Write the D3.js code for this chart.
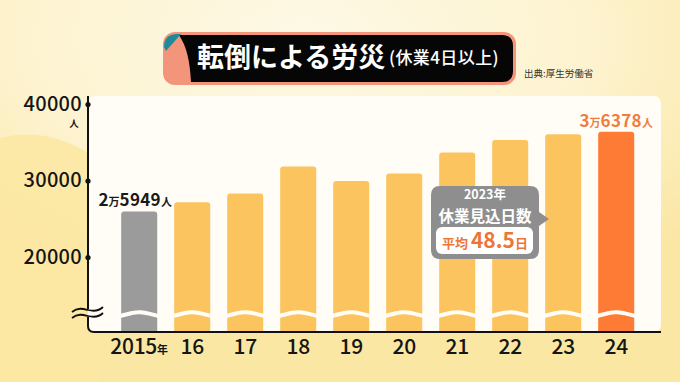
<!DOCTYPE html>
<html>
<head>
<meta charset="utf-8">
<script src="https://cdn.jsdelivr.net/npm/d3@7"></script>
<style>
  html, body { margin: 0; padding: 0; background: #fcebb0; }
  svg { display: block; font-family: "Noto Sans CJK JP", "Noto Sans", sans-serif; }
</style>
</head>
<body>
<div id="chart"></div>
<script>
// data
const years = ["2015", "16", "17", "18", "19", "20", "21", "22", "23", "24"];
const values = [25949, 27152, 28310, 31833, 29928, 30929, 33672, 35295, 36058, 36378];
const yTicks = [20000, 30000, 40000];
const titleMain = "転倒による労災";
const titleSub = "(休業4日以上)";
const sourceText = "出典:厚生労働省";
const calloutLines = ["2023年", "休業見込日数"];
const calloutAvg = 48.5;

// layout
const width = 680, height = 382;
const baseY = 332, breakY = 314;
const axisX = 88, plotRight = 661, plotTop = 96;

const svg = d3.select("#chart").append("svg")
    .attr("width", width)
    .attr("height", height);

const defs = svg.append("defs");
const glow = defs.append("radialGradient")
    .attr("id", "glow")
    .attr("cx", "0.45").attr("cy", "0.1").attr("r", "0.75");
glow.append("stop").attr("offset", "0").attr("stop-color", "#fef9e6");
glow.append("stop").attr("offset", "0.55").attr("stop-color", "#fdf3d0");
glow.append("stop").attr("offset", "1").attr("stop-color", "#fbe7a4");

// background
svg.append("rect")
    .attr("width", width).attr("height", height)
    .attr("fill", "url(#glow)");
svg.append("path")
    .attr("d", "M0,138 C40,128 70,140 100,160 L100,382 L0,382 Z")
    .attr("fill", "#fbe7a2")
    .attr("opacity", 0.85);

// title plate
{
    let g = svg.append("g");
    g.append("rect")
        .attr("x", 163).attr("y", 32)
        .attr("width", 353).attr("height", 53)
        .attr("rx", 12)
        .attr("fill", "#f3957a");
    g.append("path")
        .attr("d", "M179,35 H502 Q513,35 513,46 V71 Q513,82 502,82 H191 C190,62 187,47 179,35 Z")
        .attr("fill", "#060606");
    g.append("path")
        .attr("d", "M164,47 Q164,35 176,34 L181,34 L166,51 Z")
        .attr("fill", "#1f8a9a");
    g.append("text")
        .attr("x", 197).attr("y", 67)
        .attr("font-size", 27)
        .attr("font-weight", "bold")
        .attr("fill", "#ffffff")
        .text(titleMain);
    g.append("text")
        .attr("x", 389).attr("y", 64)
        .attr("font-size", 17)
        .attr("font-weight", 500)
        .attr("letter-spacing", 0.4)
        .attr("fill", "#ffffff")
        .text(titleSub);
    svg.append("text")
        .attr("x", 524).attr("y", 77)
        .attr("font-size", 9.5)
        .attr("fill", "#333")
        .text(sourceText);
}

// card
svg.append("rect")
    .attr("x", axisX).attr("y", plotTop)
    .attr("width", plotRight - axisX).attr("height", baseY - plotTop)
    .attr("rx", 7)
    .attr("fill", "#fffdf6");

// scales
let x = d3.scaleBand()
    .domain(years)
    .range([112.7, 642.7])
    .paddingInner(0.32)
    .paddingOuter(0.16);
let y = d3.scaleLinear()
    .domain([20000, 40000])
    .range([257, 104]);

function barColor(i) {
    if (i === 0) return "#9b9b9b";
    if (i === years.length - 1) return "#fd7b35";
    return "#fcc45f";
}

function barPath(d, i) {
    let x0 = x(years[i]), w = x.bandwidth(), y0 = y(d), r = 3;
    return "M" + x0 + "," + baseY +
        "V" + (y0 + r) +
        "Q" + x0 + "," + y0 + " " + (x0 + r) + "," + y0 +
        "H" + (x0 + w - r) +
        "Q" + (x0 + w) + "," + y0 + " " + (x0 + w) + "," + (y0 + r) +
        "V" + baseY + "Z";
}

// bars
svg.selectAll(".bar")
    .data(values)
    .enter()
    .append("path")
    .attr("class", "bar")
    .attr("d", barPath)
    .attr("fill", function(d, i) { return barColor(i); });

// wavy break through bars
{
    let pts = [];
    let c0 = x(years[0]) + x.bandwidth() / 2;
    for (let px = 108; px <= 648; px += 1) {
        pts.push([px, breakY + 0.5 - 2.2 * Math.cos(2 * Math.PI * (px - c0) / x.step())]);
    }
    svg.append("path")
        .attr("d", d3.line()(pts))
        .attr("fill", "none")
        .attr("stroke", "#fffdf6")
        .attr("stroke-width", 4);
}

// value labels
function addValueLabel(i, color, dx) {
    let v = values[i];
    let t = svg.append("text")
        .attr("x", x(years[i]) + x.bandwidth() / 2 + dx)
        .attr("y", y(v) - 5)
        .attr("text-anchor", "middle")
        .attr("font-weight", "bold")
        .attr("fill", color);
    t.append("tspan").attr("font-size", 17).text(Math.floor(v / 10000));
    t.append("tspan").attr("font-size", 11).text("万");
    t.append("tspan").attr("font-size", 17).attr("letter-spacing", 0.3).text(v % 10000);
    t.append("tspan").attr("font-size", 11).text("人");
}
addValueLabel(0, "#1a1a1a", -4);
addValueLabel(years.length - 1, "#f07c3e", 0);

// y axis
{
    let yAxis = d3.axisLeft(y)
        .tickValues(yTicks)
        .tickSize(0)
        .tickPadding(6)
        .tickFormat(d3.format("d"));
    let ga = svg.append("g")
        .attr("transform", "translate(" + axisX + ",0)")
        .call(yAxis);
    ga.select(".domain").remove();
    ga.selectAll("text")
        .attr("font-size", 20)
        .attr("font-weight", 500)
        .attr("letter-spacing", 0.3)
        .attr("fill", "#151515")
        .attr("font-family", "'Noto Sans CJK JP', sans-serif");
    ga.selectAll(".tick").append("circle")
        .attr("r", 2.6)
        .attr("fill", "#111");
    svg.append("text")
        .attr("x", 74).attr("y", 127)
        .attr("text-anchor", "middle")
        .attr("font-size", 9.5)
        .attr("font-weight", "bold")
        .attr("fill", "#151515")
        .text("人");

    // axis lines
    svg.append("path")
        .attr("d", "M" + axisX + "," + plotTop + "V" + (breakY - 5))
        .attr("stroke", "#111").attr("stroke-width", 2).attr("fill", "none");
    svg.append("path")
        .attr("d", "M" + axisX + "," + (breakY + 3) + "V" + (baseY - 6) +
            "Q" + axisX + "," + baseY + " " + (axisX + 6) + "," + baseY + "H" + plotRight)
        .attr("stroke", "#111").attr("stroke-width", 2).attr("fill", "none");
    // break marks
    [breakY - 4, breakY + 2].forEach(function(yy) {
        svg.append("path")
            .attr("d", "M72," + (yy + 2) + " C78," + (yy - 3) + " 84," + (yy - 1) + " 88," + yy +
                " S98," + (yy + 2) + " 103," + (yy - 3))
            .attr("fill", "none")
            .attr("stroke", "#111")
            .attr("stroke-width", 1.8);
    });
}

// x labels
{
    let xl = svg.selectAll(".xlab")
        .data(years)
        .enter()
        .append("text")
        .attr("class", "xlab")
        .attr("x", function(d) { return x(d) + x.bandwidth() / 2; })
        .attr("y", 354)
        .attr("text-anchor", "middle")
        .attr("font-weight", 500)
        .attr("fill", "#151515");
    xl.append("tspan")
        .attr("font-size", 21)
        .attr("letter-spacing", -0.3)
        .text(function(d) { return d; });
    xl.filter(function(d, i) { return i === 0; })
        .append("tspan")
        .attr("font-size", 11)
        .attr("font-weight", "bold")
        .text("年");
}

// callout
{
    let g = svg.append("g");
    g.append("path")
        .attr("d", "M440,186 H530 Q539,186 539,195 V212 L549,219 L539,226 V250 Q539,259 530,259 H440 Q431,259 431,250 V195 Q431,186 440,186 Z")
        .attr("fill", "#8e8e8e");
    g.append("rect")
        .attr("x", 436).attr("y", 227)
        .attr("width", 97).attr("height", 27)
        .attr("rx", 6)
        .attr("fill", "#ffffff");
    g.append("text")
        .attr("x", 485).attr("y", 199)
        .attr("text-anchor", "middle")
        .attr("font-size", 12.5)
        .attr("font-weight", "bold")
        .attr("fill", "#ffffff")
        .text(calloutLines[0]);
    g.append("text")
        .attr("x", 485).attr("y", 222)
        .attr("text-anchor", "middle")
        .attr("font-size", 15.5)
        .attr("font-weight", "bold")
        .attr("fill", "#ffffff")
        .text(calloutLines[1]);
    let t = g.append("text")
        .attr("x", 485).attr("y", 248)
        .attr("text-anchor", "middle")
        .attr("font-weight", "bold")
        .attr("fill", "#ec7638");
    t.append("tspan").attr("font-size", 13).text("平均 ");
    t.append("tspan").attr("font-size", 21).text(calloutAvg.toFixed(1));
    t.append("tspan").attr("font-size", 13).text("日");
}
</script>
</body>
</html>
